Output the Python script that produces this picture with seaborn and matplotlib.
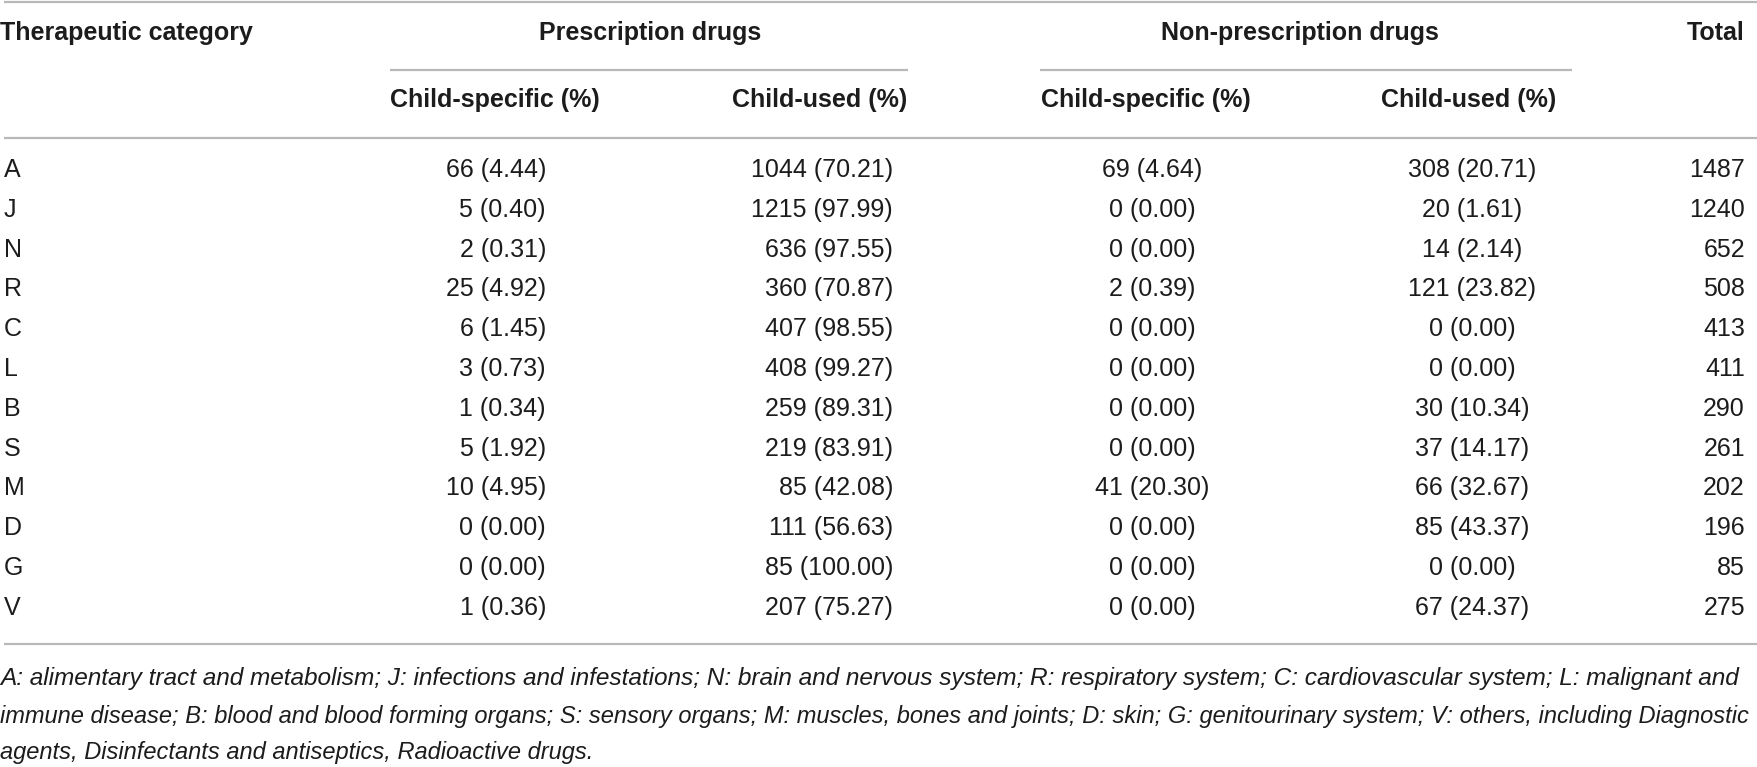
import matplotlib
matplotlib.use("Agg")
import matplotlib.pyplot as plt
import seaborn as sns

# Table data
categories = ["A", "J", "N", "R", "C", "L", "B", "S", "M", "D", "G", "V"]
rx_specific = ["66 (4.44)", "5 (0.40)", "2 (0.31)", "25 (4.92)", "6 (1.45)", "3 (0.73)",
               "1 (0.34)", "5 (1.92)", "10 (4.95)", "0 (0.00)", "0 (0.00)", "1 (0.36)"]
rx_used = ["1044 (70.21)", "1215 (97.99)", "636 (97.55)", "360 (70.87)", "407 (98.55)",
           "408 (99.27)", "259 (89.31)", "219 (83.91)", "85 (42.08)", "111 (56.63)",
           "85 (100.00)", "207 (75.27)"]
otc_specific = ["69 (4.64)", "0 (0.00)", "0 (0.00)", "2 (0.39)", "0 (0.00)", "0 (0.00)",
                "0 (0.00)", "0 (0.00)", "41 (20.30)", "0 (0.00)", "0 (0.00)", "0 (0.00)"]
otc_used = ["308 (20.71)", "20 (1.61)", "14 (2.14)", "121 (23.82)", "0 (0.00)", "0 (0.00)",
            "30 (10.34)", "37 (14.17)", "66 (32.67)", "85 (43.37)", "0 (0.00)", "67 (24.37)"]
totals = ["1487", "1240", "652", "508", "413", "411", "290", "261", "202", "196", "85", "275"]

group_headers = ["Prescription drugs", "Non-prescription drugs"]
sub_headers = ["Child-specific (%)", "Child-used (%)", "Child-specific (%)", "Child-used (%)"]
footnote = [
    "A: alimentary tract and metabolism; J: infections and infestations; N: brain and nervous system; "
    "R: respiratory system; C: cardiovascular system; L: malignant and",
    "immune disease; B: blood and blood forming organs; S: sensory organs; M: muscles, bones and joints; "
    "D: skin; G: genitourinary system; V: others, including Diagnostic",
    "agents, Disinfectants and antiseptics, Radioactive drugs.",
]

sns.set_theme(style="white")
plt.rcParams["font.family"] = ["Liberation Sans", "DejaVu Sans"]

W, H = 1758, 767
fig = plt.figure(figsize=(W / 100, H / 100), dpi=100)
ax = fig.add_axes([0, 0, 1, 1])
ax.set_xlim(0, W)
ax.set_ylim(H, 0)
ax.axis("off")

fs = 18
txt = "#1c1c1c"
rule = "#b8b8b8"

# horizontal rules
for y in [1.5, 138, 644]:
    ax.plot([4, W], [y, y], color=rule, lw=1.6, solid_capstyle="butt")
for x0, x1 in [(390, 908), (1040, 1572)]:
    ax.plot([x0, x1], [70, 70], color=rule, lw=1.6, solid_capstyle="butt")

# header
ax.text(0, 33, "Therapeutic category", fontsize=fs, fontweight="bold", color=txt,
        ha="left", va="center")
for cx, lab in zip([650, 1300], group_headers):
    ax.text(cx, 33, lab, fontsize=fs, fontweight="bold", color=txt, ha="center", va="center")
ax.text(1745, 33, "Total", fontsize=fs, fontweight="bold", color=txt, ha="right", va="center")
for cx, lab in zip([495, 820, 1146, 1469], sub_headers):
    ax.text(cx, 100, lab, fontsize=fs, fontweight="bold", color=txt, ha="center", va="center")

# body rows
row_y0, row_dy = 170, 39.8
cols = [
    (rx_specific, 546, "right"),
    (rx_used, 893, "right"),
    (otc_specific, 1152, "center"),
    (otc_used, 1472, "center"),
    (totals, 1745, "right"),
]
for i, cat in enumerate(categories):
    y = row_y0 + i * row_dy
    ax.text(4, y, cat, fontsize=fs, color=txt, ha="left", va="center")
    for values, x, ha in cols:
        ax.text(x, y, values[i], fontsize=fs, color=txt, ha=ha, va="center")

# footnote, first two lines justified to the full width
fig.canvas.draw()
renderer = fig.canvas.get_renderer()
for j, line in enumerate(footnote):
    t = ax.text(0, 679 + j * 37, line, fontsize=17, style="italic", color=txt,
                ha="left", va="center")
    if j < len(footnote) - 1:
        w = t.get_window_extent(renderer).width
        t.set_fontsize(17 * 1752 / w)

fig.savefig("out.png", dpi=100)
